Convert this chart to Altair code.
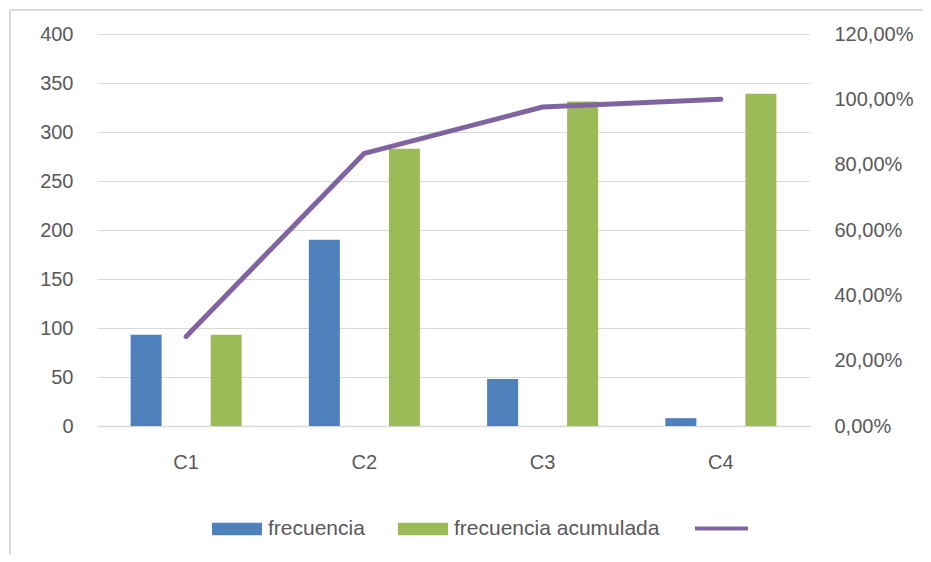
import altair as alt
import pandas as pd

categorias = ["C1", "C2", "C3", "C4"]
frecuencia = [93, 190, 48, 8]
frecuencia_acumulada = [93, 283, 331, 339]
porcentaje_acumulado = [0.2743, 0.8348, 0.9764, 1.0]
series = ["frecuencia", "frecuencia acumulada"]
serie_linea = ["porcentaje"]
ticks_izq = [0, 50, 100, 150, 200, 250, 300, 350, 400]
ticks_der = [0, 0.2, 0.4, 0.6, 0.8, 1.0, 1.2]

bars_df = pd.DataFrame({
    "cat": categorias * 2,
    "serie": [series[0]] * len(categorias) + [series[1]] * len(categorias),
    "valor": frecuencia + frecuencia_acumulada,
})
line_df = pd.DataFrame({"cat": categorias, "pct": porcentaje_acumulado,
                        "serie": serie_linea * len(categorias)})

FONT = "Liberation Sans"
GRAY = "#595959"
GRID = "#d9d9d9"
BLUE = "#4F81BD"
GREEN = "#9BBB59"
PURPLE = "#8064A2"

x_enc = alt.X("cat:N", sort=categorias, title=None,
              scale=alt.Scale(paddingInner=0.377, paddingOuter=0.1886),
              axis=alt.Axis(labelAngle=0, labelFont=FONT, labelFontSize=20,
                            labelColor=GRAY, labelPadding=26, ticks=False,
                            domainColor=GRID, domainWidth=1.5, grid=False))

frame = alt.Chart(pd.DataFrame({"a": [0]})).mark_rect(
    filled=False, stroke=GRID, strokeWidth=2
).encode(x=alt.value(-87), x2=alt.value(2000), y=alt.value(-24), y2=alt.value(2000))

bars = alt.Chart(bars_df).mark_bar().encode(
    x=x_enc,
    xOffset=alt.XOffset("serie:N", sort=series,
                        scale=alt.Scale(domain=series, paddingInner=0.6125, paddingOuter=0)),
    y=alt.Y("valor:Q", title=None, scale=alt.Scale(domain=[0, 400]),
            axis=alt.Axis(values=ticks_izq, grid=True, gridColor=GRID, gridWidth=1.2,
                          domain=False, ticks=False, labelPadding=24,
                          labelFont=FONT, labelFontSize=20, labelColor=GRAY)),
    fill=alt.Fill("serie:N", sort=series,
                  scale=alt.Scale(domain=series, range=[BLUE, GREEN]),
                  legend=alt.Legend(title=None, orient="none", legendX=115, legendY=470,
                                    direction="horizontal", padding=0, labelLimit=400,
                                    symbolType="M-1,-0.25H1V0.25H-1Z", symbolSize=2500,
                                    symbolStrokeWidth=0, labelOffset=6, columnPadding=33,
                                    labelFont=FONT, labelFontSize=21, labelColor=GRAY)),
)

line = alt.Chart(line_df).mark_line(strokeWidth=5, strokeCap="round", strokeJoin="round").encode(
    x=x_enc,
    y=alt.Y("pct:Q", title=None, scale=alt.Scale(domain=[0, 1.2]),
            axis=alt.Axis(orient="right", values=ticks_der, grid=False, domain=False,
                          ticks=False, labelPadding=24, labelFont=FONT, labelFontSize=20,
                          labelColor=GRAY,
                          labelExpr="replace(format(datum.value*100, '.2f'), '.', ',') + '%'")),
    stroke=alt.Stroke("serie:N", scale=alt.Scale(domain=serie_linea, range=[PURPLE]),
                      legend=alt.Legend(title=None, orient="none", legendX=596, legendY=466,
                                        padding=0, symbolType="stroke", symbolSize=2809,
                                        symbolStrokeWidth=4, labelExpr="''",
                                        labelFont=FONT, labelFontSize=21)),
)

chart = alt.layer(frame, bars, line).resolve_scale(y="independent").properties(
    width=713, height=392,
    autosize=alt.AutoSizeParams(type="none"),
    padding={"left": 89, "top": 26, "right": 113, "bottom": 128},
).configure_view(stroke="transparent")

chart.save("out.html", embed_options={"renderer": "svg", "actions": False})
